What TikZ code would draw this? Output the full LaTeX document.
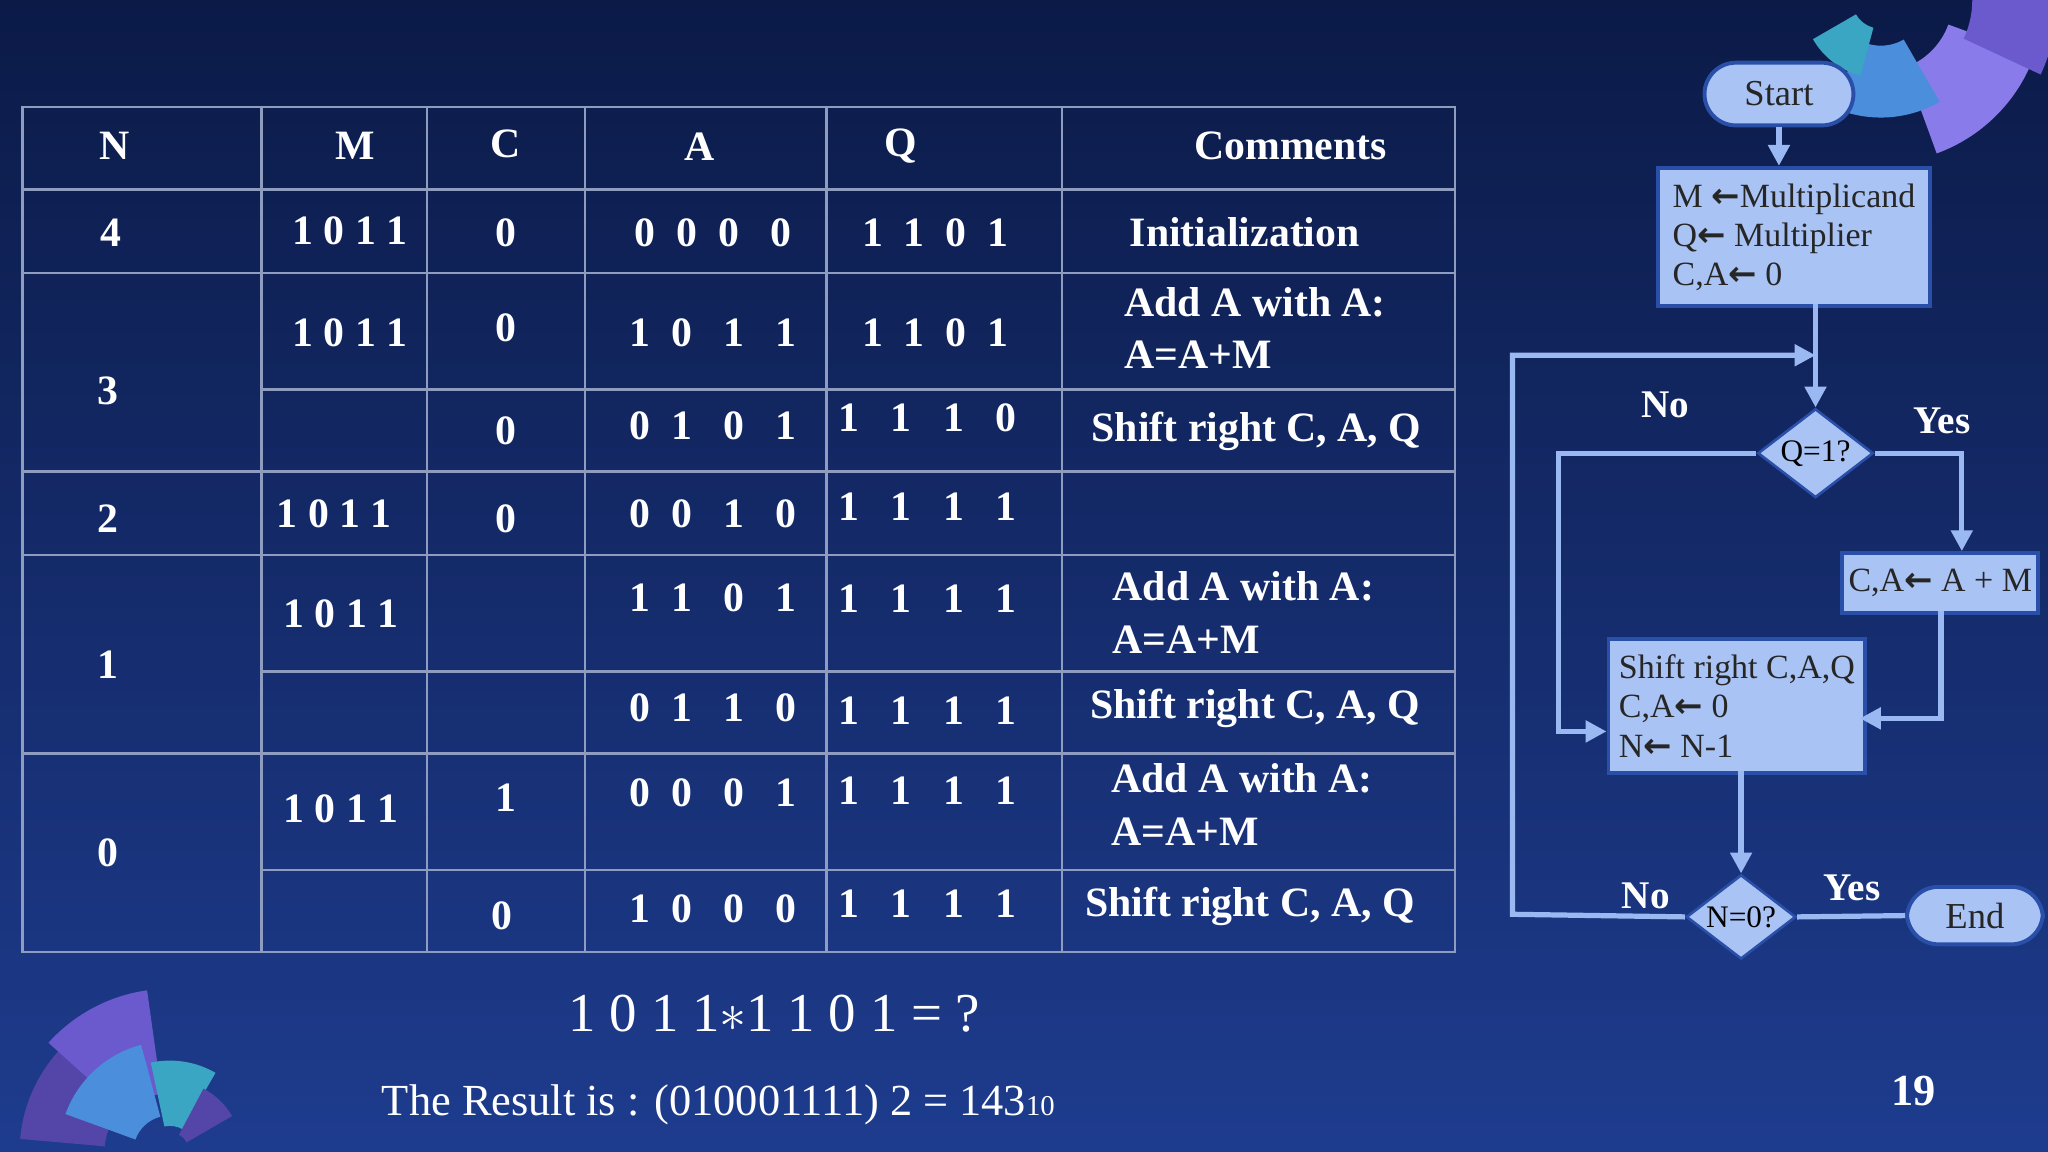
\documentclass[tikz,border=0pt]{standalone}
\usepackage{fontspec}
\setmainfont{Liberation Serif}
\newfontfamily\djv{DejaVu Sans}
\usetikzlibrary{arrows.meta,shapes.geometric,calc}
\definecolor{bgtop}{HTML}{0B1A47}
\definecolor{bgbot}{HTML}{1E3C8E}
\definecolor{grid}{HTML}{8E9CC0}
\definecolor{fbox}{HTML}{A9C3F4}
\definecolor{fedge}{HTML}{2A4FA8}
\definecolor{fline}{HTML}{9AB8F2}
\definecolor{fanA}{HTML}{6A5ACD}
\definecolor{fanB}{HTML}{8A7BEA}
\definecolor{fanC}{HTML}{4A8EDC}
\definecolor{fanD}{HTML}{3AA6C4}
\definecolor{fanE}{HTML}{5446A8}
\newcommand{\fanseg}[7]{\fill[#7] ($(#1,#2)+(#3:#6)$) arc[start angle=#3,end angle=#4,radius=#6] -- ($(#1,#2)+(#4:#5)$) arc[start angle=#4,end angle=#3,radius=#5] -- cycle;}
\newcommand{\la}{{\djv\bfseries ←}}
\begin{document}
\begin{tikzpicture}[x=0.5pt,y=-0.5pt,
  tt/.style={text=white,font=\bfseries\fontsize{16}{18}\selectfont,inner sep=0},
  fb/.style={draw=fedge,line width=1.5pt,fill=fbox,inner sep=3pt,font=\fontsize{13}{15}\selectfont,text=black!85,align=left},
  fd/.style={draw=fedge,line width=1pt,fill=fbox,diamond,aspect=1.3,inner sep=1pt,font=\fontsize{12}{14}\selectfont},
  cn/.style={draw=fline,line width=2pt},
  ar/.style={cn,-{Triangle[width=8pt,length=8pt]}},
  lb/.style={text=white,font=\bfseries\fontsize{15}{17}\selectfont}]
\useasboundingbox (0,0) rectangle (1568,882);
\shade[top color=bgtop,bottom color=bgbot] (0,0) rectangle (1568,882);
% fans
\fanseg{130}{882}{185}{225}{50}{115}{fanE}
\fanseg{130}{882}{222}{262}{45}{125}{fanA}
\fanseg{130}{882}{200}{255}{28}{85}{fanC}
\fanseg{130}{882}{258}{300}{20}{70}{fanD}
\fanseg{130}{882}{298}{330}{15}{55}{fanE}
\fanseg{1440}{0}{20}{70}{55}{125}{fanB}
\fanseg{1440}{0}{60}{115}{35}{90}{fanC}
\fanseg{1440}{0}{-10}{25}{70}{135}{fanA}
\fanseg{1440}{0}{105}{150}{22}{60}{fanD}
% table grid
\begin{scope}[draw=grid,line width=1pt]
\draw (17,82) rectangle (1114,729);
\foreach \x in {200,327,448,633,813} \draw (\x,82) -- (\x,729);
\foreach \y in {145,209,361,425,577} \draw (17,\y) -- (1114,\y);
\foreach \y in {298,514,666} \draw (200,\y) -- (1114,\y);
\end{scope}
% header
\node[tt] (hN) at (88,112) {N};
\node[tt] (hM) at (272,112) {M};
\node[tt] (hC) at (387,110) {C};
\node[tt] (hA) at (536,112) {A};
\node[tt] (hQ) at (690,112) {Q};
\node[tt] (hK) at (988,112) {Comments};
% rows
\node[tt] (n4) at (85,178) {4};
\node[tt] (m4) at (268,177) {1 0 1 1};
\node[tt] (c4) at (387,178) {0};
\node[tt] (a4) at (546,178) {0\ \ 0\ \ 0\ \ \ 0};
\node[tt] (q4) at (716,178) {1\ \ 1\ \ 0\ \ 1};
\node[tt] (k4) at (953,178) {Initialization};
\node[tt] (n3) at (83,299) {3};
\node[tt] (m3) at (268,255) {1 0 1 1};
\node[tt] (c3) at (387,251) {0};
\node[tt] (a3) at (546,255) {1\ \ 0\ \ \ 1\ \ \ 1};
\node[tt] (q3) at (716,255) {1\ \ 1\ \ 0\ \ 1};
\node[tt,align=left] (k3) at (961,251) {Add A with A:\\[2pt]A=A+M};
\node[tt] (c3b) at (387,330) {0};
\node[tt] (a3b) at (546,326) {0\ \ 1\ \ \ 0\ \ \ 1};
\node[tt] (q3b) at (710,320) {1\ \ \ 1\ \ \ 1\ \ \ 0};
\node[tt] (k3b) at (962,330) {Shift right C, A, Q};
\node[tt] (n2) at (83,397) {2};
\node[tt] (m2) at (256,393) {1 0 1 1};
\node[tt] (c2) at (387,397) {0};
\node[tt] (a2) at (546,393) {0\ \ 0\ \ \ 1\ \ \ 0};
\node[tt] (q2) at (710,388) {1\ \ \ 1\ \ \ 1\ \ \ 1};
\node[tt] (n1) at (83,509) {1};
\node[tt] (m1) at (261,470) {1 0 1 1};
\node[tt] (a1) at (546,458) {1\ \ 1\ \ \ 0\ \ \ 1};
\node[tt] (q1) at (710,458) {1\ \ \ 1\ \ \ 1\ \ \ 1};
\node[tt,align=left] (k1) at (952,469) {Add A with A:\\[2pt]A=A+M};
\node[tt] (a1b) at (546,542) {0\ \ 1\ \ \ 1\ \ \ 0};
\node[tt] (q1b) at (710,544) {1\ \ \ 1\ \ \ 1\ \ \ 1};
\node[tt] (k1b) at (961,542) {Shift right C, A, Q};
\node[tt] (n0) at (83,653) {0};
\node[tt] (m0) at (261,619) {1 0 1 1};
\node[tt] (c0) at (387,611) {1};
\node[tt] (a0) at (546,607) {0\ \ 0\ \ \ 0\ \ \ 1};
\node[tt] (q0) at (710,605) {1\ \ \ 1\ \ \ 1\ \ \ 1};
\node[tt,align=left] (k0) at (951,616) {Add A with A:\\[2pt]A=A+M};
\node[tt] (c0b) at (384,701) {0};
\node[tt] (a0b) at (546,696) {1\ \ 0\ \ \ 0\ \ \ 0};
\node[tt] (q0b) at (710,692) {1\ \ \ 1\ \ \ 1\ \ \ 1};
\node[tt] (k0b) at (957,694) {Shift right C, A, Q};
% bottom text
\node[text=white,font=\fontsize{21}{24}\selectfont] (eq) at (593,776) {1 0 1 1$\ast$1 1 0 1 = ?};
\node[text=white,font=\fontsize{17}{20}\selectfont] (res) at (550,846) {The Result is : (010001111) 2 = 143{\fontsize{11}{12}\selectfont 10}};
\node[text=white,font=\bfseries\fontsize{17}{20}\selectfont] (pg) at (1465,835) {19};
% flowchart
\node[fb,rounded corners=12pt,minimum width=57pt,minimum height=24pt,align=center,font=\fontsize{14}{16}\selectfont] (start) at (1362,72) {Start};
\node[fb,minimum width=104pt,minimum height=53pt,anchor=north west,inner sep=4pt] (init) at (1268,127) {M \la Multiplicand\\Q\la\ Multiplier\\C,A\la\ 0};
\node[fd] (q1d) at (1390,347) {Q=1?};
\node[fb,minimum width=75pt,minimum height=23pt,anchor=north west,inner sep=2pt] (add) at (1409,422) {C,A\la\ A + M};
\node[fb,minimum width=97pt,minimum height=51pt,anchor=north west,inner sep=4pt] (shift) at (1230,488) {Shift right C,A,Q\\C,A\la\ 0\\N\la\ N-1};
\node[fd] (n0d) at (1333,702) {N=0?};
\node[fb,rounded corners=12pt,minimum width=52pt,minimum height=22pt,align=center,font=\fontsize{14}{16}\selectfont] (end) at (1512,701) {End};
\coordinate (tp) at (1390,272);
\draw[ar] (start.south) -- (start.south|-init.north);
\draw[ar] (1390,233) -- (q1d.north);
\draw[ar] (n0d.west) -- (1158,700) -- (1158,272) -- (tp);
\draw[ar] (q1d.west) -- (1193,347) -- (1193,560) -- (1230,560);
\draw[ar] (q1d.east) -- (1502,347) -- (add.north-|1502,0);
\draw[ar] (1486,468) -- (1486,550) -- (1424,550);
\draw[ar] (1333,590) -- (n0d.north);
\draw[cn] (n0d.east) -- (end.west);
\node[lb] (lno1) at (1275,310) {No};
\node[lb] (lyes1) at (1487,322) {Yes};
\node[lb] (lno2) at (1260,686) {No};
\node[lb] (lyes2) at (1418,680) {Yes};
\end{tikzpicture}
\end{document}
